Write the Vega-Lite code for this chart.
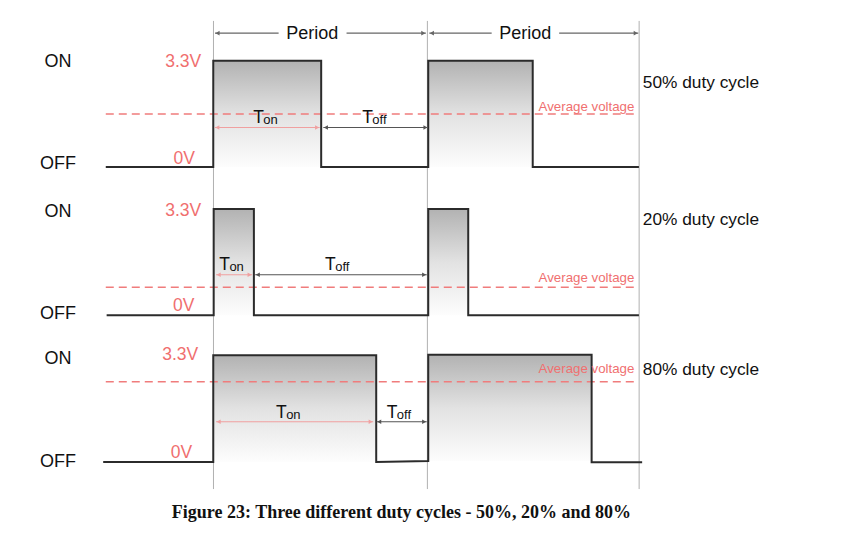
{
  "$schema": "https://vega.github.io/schema/vega-lite/v6.json",
  "width": 841,
  "height": 538,
  "autosize": {"type": "fit", "contains": "padding"},
  "padding": 0,
  "background": "white",
  "config": {"view": {"stroke": null}},
  "datasets": {
    "guides": [
      {"t": 0.01, "v": -0.84, "v2": 13.7},
      {"t": 9.96, "v": -0.84, "v2": 13.7},
      {"t": 19.81, "v": -0.84, "v2": 13.7}
    ],
    "pulses": [
      {"panel": "50%", "t": 0, "t2": 5.02, "v": 9.16, "v2": 12.46},
      {"panel": "50%", "t": 10, "t2": 14.86, "v": 9.16, "v2": 12.46},
      {"panel": "20%", "t": 0.02, "t2": 1.89, "v": 4.556, "v2": 7.857},
      {"panel": "20%", "t": 10, "t2": 11.86, "v": 4.556, "v2": 7.857},
      {"panel": "80%", "t": 0, "t2": 7.58, "v": 0, "v2": 3.314},
      {"panel": "80%", "t": 10, "t2": 17.6, "v": 0.03, "v2": 3.33}
    ],
    "average": [
      {"panel": "50%", "t": -5.0, "t2": 19.7, "v": 10.81},
      {"panel": "20%", "t": -5.0, "t2": 19.7, "v": 5.425},
      {"panel": "80%", "t": -5.0, "t2": 19.7, "v": 2.494}
    ],
    "wave": [
      {"panel": "50%", "i": 1, "t": -5.0, "v": 9.16},
      {"panel": "50%", "i": 2, "t": 0, "v": 9.16},
      {"panel": "50%", "i": 3, "t": 0, "v": 12.46},
      {"panel": "50%", "i": 4, "t": 5.02, "v": 12.46},
      {"panel": "50%", "i": 5, "t": 5.02, "v": 9.16},
      {"panel": "50%", "i": 6, "t": 10, "v": 9.16},
      {"panel": "50%", "i": 7, "t": 10, "v": 12.46},
      {"panel": "50%", "i": 8, "t": 14.86, "v": 12.46},
      {"panel": "50%", "i": 9, "t": 14.86, "v": 9.16},
      {"panel": "50%", "i": 10, "t": 19.8, "v": 9.16},
      {"panel": "20%", "i": 1, "t": -4.96, "v": 4.556},
      {"panel": "20%", "i": 2, "t": 0.02, "v": 4.556},
      {"panel": "20%", "i": 3, "t": 0.02, "v": 7.857},
      {"panel": "20%", "i": 4, "t": 1.89, "v": 7.857},
      {"panel": "20%", "i": 5, "t": 1.89, "v": 4.556},
      {"panel": "20%", "i": 6, "t": 10, "v": 4.556},
      {"panel": "20%", "i": 7, "t": 10, "v": 7.857},
      {"panel": "20%", "i": 8, "t": 11.86, "v": 7.857},
      {"panel": "20%", "i": 9, "t": 11.86, "v": 4.556},
      {"panel": "20%", "i": 10, "t": 19.8, "v": 4.556},
      {"panel": "80%", "i": 1, "t": -5.12, "v": 0},
      {"panel": "80%", "i": 2, "t": 0, "v": 0},
      {"panel": "80%", "i": 3, "t": 0, "v": 3.314},
      {"panel": "80%", "i": 4, "t": 7.58, "v": 3.314},
      {"panel": "80%", "i": 5, "t": 7.58, "v": 0},
      {"panel": "80%", "i": 6, "t": 10, "v": 0.03},
      {"panel": "80%", "i": 7, "t": 10, "v": 3.33},
      {"panel": "80%", "i": 8, "t": 17.6, "v": 3.33},
      {"panel": "80%", "i": 9, "t": 17.6, "v": -0.01},
      {"panel": "80%", "i": 10, "t": 19.95, "v": -0.01}
    ],
    "arrows": [
      {"kind": "on", "t": 0.07, "t2": 4.95, "v": 10.39},
      {"kind": "off", "t": 5.12, "t2": 9.99, "v": 10.39},
      {"kind": "on", "t": 0.13, "t2": 1.81, "v": 5.817},
      {"kind": "off", "t": 1.95, "t2": 9.93, "v": 5.817},
      {"kind": "on", "t": 0.13, "t2": 7.44, "v": 1.25},
      {"kind": "off", "t": 7.6, "t2": 9.93, "v": 1.25},
      {"kind": "period", "t": 0.08, "t2": 3.04, "v": 13.32},
      {"kind": "period", "t": 6.2, "t2": 9.89, "v": 13.32},
      {"kind": "period", "t": 10.05, "t2": 12.95, "v": 13.32},
      {"kind": "period", "t": 16.09, "t2": 19.77, "v": 13.32}
    ],
    "heads": [
      {"kind": "on", "end": "left", "t": 0.19, "v": 10.39},
      {"kind": "on", "end": "right", "t": 4.83, "v": 10.39},
      {"kind": "off", "end": "left", "t": 5.24, "v": 10.39},
      {"kind": "off", "end": "right", "t": 9.87, "v": 10.39},
      {"kind": "on", "end": "left", "t": 0.25, "v": 5.817},
      {"kind": "on", "end": "right", "t": 1.69, "v": 5.817},
      {"kind": "off", "end": "left", "t": 2.07, "v": 5.817},
      {"kind": "off", "end": "right", "t": 9.81, "v": 5.817},
      {"kind": "on", "end": "left", "t": 0.25, "v": 1.25},
      {"kind": "on", "end": "right", "t": 7.32, "v": 1.25},
      {"kind": "off", "end": "left", "t": 7.72, "v": 1.25},
      {"kind": "off", "end": "right", "t": 9.81, "v": 1.25},
      {"kind": "period", "end": "left", "t": 0.2, "v": 13.32},
      {"kind": "period", "end": "right", "t": 9.77, "v": 13.32},
      {"kind": "period", "end": "left", "t": 10.17, "v": 13.32},
      {"kind": "period", "end": "right", "t": 19.65, "v": 13.32}
    ],
    "labels": [
      {"kind": "state", "text": "ON", "t": -7.22, "v": 12.276},
      {"kind": "state", "text": "OFF", "t": -7.22, "v": 9.09},
      {"kind": "state", "text": "ON", "t": -7.22, "v": 7.618},
      {"kind": "state", "text": "OFF", "t": -7.22, "v": 4.43},
      {"kind": "state", "text": "ON", "t": -7.22, "v": 3.04},
      {"kind": "state", "text": "OFF", "t": -7.22, "v": -0.146},
      {"kind": "volt", "text": "3.3V", "t": -0.56, "v": 12.276},
      {"kind": "volt", "text": "0V", "t": -0.85, "v": 9.25},
      {"kind": "volt", "text": "3.3V", "t": -0.56, "v": 7.65},
      {"kind": "volt", "text": "0V", "t": -0.88, "v": 4.7},
      {"kind": "volt", "text": "3.3V", "t": -0.7, "v": 3.17},
      {"kind": "volt", "text": "0V", "t": -0.98, "v": 0.124},
      {"kind": "avg", "text": "Average voltage", "t": 19.59, "v": 10.91},
      {"kind": "avg", "text": "Average voltage", "t": 19.59, "v": 5.58},
      {"kind": "avg", "text": "Average voltage", "t": 19.59, "v": 2.75},
      {"kind": "duty", "text": "50% duty cycle", "t": 19.98, "v": 11.61},
      {"kind": "duty", "text": "20% duty cycle", "t": 19.98, "v": 7.36},
      {"kind": "duty", "text": "80% duty cycle", "t": 19.98, "v": 2.7},
      {"kind": "period", "text": "Period", "t": 4.61, "v": 13.13},
      {"kind": "period", "text": "Period", "t": 14.51, "v": 13.13},
      {"kind": "T", "text": "T", "t": 1.86, "v": 10.52},
      {"kind": "T", "text": "T", "t": 6.93, "v": 10.52},
      {"kind": "T", "text": "T", "t": 0.28, "v": 5.95},
      {"kind": "T", "text": "T", "t": 5.2, "v": 5.95},
      {"kind": "T", "text": "T", "t": 2.92, "v": 1.357},
      {"kind": "T", "text": "T", "t": 8.07, "v": 1.357},
      {"kind": "sub", "text": "on", "t": 2.33, "v": 10.5},
      {"kind": "sub", "text": "off", "t": 7.4, "v": 10.5},
      {"kind": "sub", "text": "on", "t": 0.75, "v": 5.93},
      {"kind": "sub", "text": "off", "t": 5.67, "v": 5.93},
      {"kind": "sub", "text": "on", "t": 3.39, "v": 1.337},
      {"kind": "sub", "text": "off", "t": 8.54, "v": 1.337},
      {"kind": "caption", "text": "Figure 23: Three different duty cycles - 50%, 20% and 80%", "t": 8.75, "v": -1.73}
    ]
  },
  "encoding": {
    "x": {"field": "t", "type": "quantitative", "axis": null,
          "scale": {"domain": [-9.92, 29.2], "nice": false, "zero": false}},
    "y": {"field": "v", "type": "quantitative", "axis": null,
          "scale": {"domain": [-2.36, 14.35], "nice": false, "zero": false}}
  },
  "layer": [
    {
      "data": {"name": "guides"},
      "mark": {"type": "rule", "color": "#b0b0b0", "strokeWidth": 1},
      "encoding": {"y2": {"field": "v2"}}
    },
    {
      "data": {"name": "pulses"},
      "mark": {
        "type": "rect",
        "fill": {
          "gradient": "linear", "x1": 0, "y1": 0, "x2": 0, "y2": 1,
          "stops": [
            {"offset": 0, "color": "#b2b2b2"},
            {"offset": 0.5, "color": "#e2e2e2"},
            {"offset": 1, "color": "#fdfdfd"}
          ]
        }
      },
      "encoding": {"x2": {"field": "t2"}, "y2": {"field": "v2"}}
    },
    {
      "data": {"name": "average"},
      "mark": {"type": "rule", "color": "#f07c7c", "strokeWidth": 1.5, "strokeDash": [8, 5]},
      "encoding": {"x2": {"field": "t2"}}
    },
    {
      "data": {"name": "wave"},
      "mark": {"type": "line", "color": "#2b2b2b", "strokeWidth": 2, "strokeJoin": "miter"},
      "encoding": {
        "detail": {"field": "panel", "type": "nominal"},
        "order": {"field": "i", "type": "quantitative"}
      }
    },
    {
      "data": {"name": "arrows"},
      "mark": {"type": "rule", "strokeWidth": 1.2},
      "encoding": {
        "x2": {"field": "t2"},
        "color": {"field": "kind", "type": "nominal", "legend": null,
                  "scale": {"domain": ["on", "off", "period"], "range": ["#f0a0a0", "#555555", "#666666"]}}
      }
    },
    {
      "data": {"name": "heads"},
      "mark": {"type": "point", "filled": true, "size": 22, "opacity": 1},
      "encoding": {
        "color": {"field": "kind", "type": "nominal", "legend": null,
                  "scale": {"domain": ["on", "off", "period"], "range": ["#f0a0a0", "#555555", "#666666"]}},
        "shape": {"field": "end", "type": "nominal", "legend": null,
                  "scale": {"domain": ["left", "right"], "range": ["triangle-left", "triangle-right"]}}
      }
    },
    {
      "data": {"name": "labels"},
      "transform": [{"filter": "datum.kind == 'state'"}],
      "mark": {"type": "text", "font": "Liberation Sans", "fontSize": 18, "align": "center", "baseline": "alphabetic", "color": "#111111"},
      "encoding": {"text": {"field": "text"}}
    },
    {
      "data": {"name": "labels"},
      "transform": [{"filter": "datum.kind == 'volt'"}],
      "mark": {"type": "text", "font": "Liberation Sans", "fontSize": 17.5, "align": "right", "baseline": "alphabetic", "color": "#f06f6f"},
      "encoding": {"text": {"field": "text"}}
    },
    {
      "data": {"name": "labels"},
      "transform": [{"filter": "datum.kind == 'avg'"}],
      "mark": {"type": "text", "font": "Liberation Sans", "fontSize": 13.3, "align": "right", "baseline": "alphabetic", "color": "#f07070"},
      "encoding": {"text": {"field": "text"}}
    },
    {
      "data": {"name": "labels"},
      "transform": [{"filter": "datum.kind == 'duty'"}],
      "mark": {"type": "text", "font": "Liberation Sans", "fontSize": 17.3, "align": "left", "baseline": "alphabetic", "color": "#111111"},
      "encoding": {"text": {"field": "text"}}
    },
    {
      "data": {"name": "labels"},
      "transform": [{"filter": "datum.kind == 'period'"}],
      "mark": {"type": "text", "font": "Liberation Sans", "fontSize": 18, "align": "center", "baseline": "alphabetic", "color": "#111111"},
      "encoding": {"text": {"field": "text"}}
    },
    {
      "data": {"name": "labels"},
      "transform": [{"filter": "datum.kind == 'T'"}],
      "mark": {"type": "text", "font": "Liberation Sans", "fontSize": 17.5, "align": "left", "baseline": "alphabetic", "color": "#111111"},
      "encoding": {"text": {"field": "text"}}
    },
    {
      "data": {"name": "labels"},
      "transform": [{"filter": "datum.kind == 'sub'"}],
      "mark": {"type": "text", "font": "Liberation Sans", "fontSize": 13, "align": "left", "baseline": "alphabetic", "color": "#111111"},
      "encoding": {"text": {"field": "text"}}
    },
    {
      "data": {"name": "labels"},
      "transform": [{"filter": "datum.kind == 'caption'"}],
      "mark": {"type": "text", "font": "Liberation Serif", "fontSize": 18, "fontWeight": "bold", "align": "center", "baseline": "alphabetic", "color": "#111111"},
      "encoding": {"text": {"field": "text"}}
    }
  ]
}
